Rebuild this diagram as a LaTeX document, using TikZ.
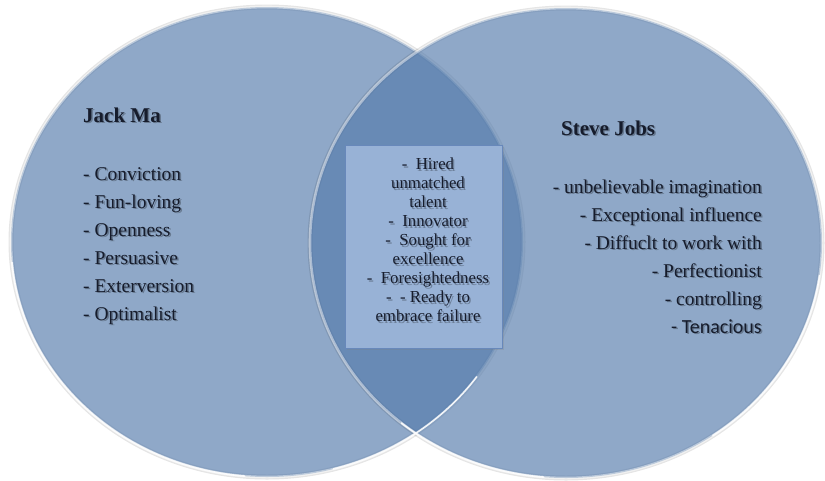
\documentclass[tikz,border=0pt]{standalone}
\usepackage{fontspec}
\setmainfont{Liberation Serif}
\newfontfamily\sansitem{Carlito}
\usetikzlibrary{shapes.geometric, positioning, shadows}

\definecolor{vennblue}{RGB}{83,122,171}
\definecolor{boxblue}{RGB}{152,178,214}
\definecolor{boxline}{RGB}{104,136,186}
\definecolor{inktext}{RGB}{22,28,44}

\begin{document}
\begin{tikzpicture}[x=1pt, y=-1pt,
    venn/.style={ellipse, inner sep=0pt,
                 minimum width=512pt, minimum height=470pt,
                 fill=vennblue, fill opacity=0.65,
                 draw=white, draw opacity=0.45, line width=2.6pt,
                 preaction={draw=black, draw opacity=0.10, line width=5pt,
                            fill opacity=0, shift={(1.5,2.5)}}},
    glint/.style={draw=white, draw opacity=0.9, line width=1.6pt, line cap=round},
    sharedbox/.style={rectangle, inner sep=0pt,
                      minimum width=157pt, minimum height=203pt,
                      fill=boxblue, draw=boxline, line width=0.8pt,
                      drop shadow={opacity=0.25, shadow xshift=1.5pt, shadow yshift=-1.5pt}},
    heading/.style={font=\fontsize{21}{26}\selectfont\bfseries, inner sep=0pt},
    item/.style={font=\fontsize{19.5}{28}\selectfont, inner sep=0pt},
    sharedtext/.style={font=\fontsize{16.8}{19}\selectfont,
                       align=center, inner sep=0pt}
  ]
  \useasboundingbox (0,0) rectangle (825,480);

  % the two sets
  \node[venn] (jack)  at (267,242) {};
  \node[venn] (steve) at (566,243) {};

  % bright rim along the lower edges
  \draw[glint] ([shift={(175:256 and 235)}]jack.center)
      arc[start angle=175, end angle=95, x radius=256, y radius=235];
  \draw[glint] ([shift={(75:256 and 235)}]jack.center)
      arc[start angle=75, end angle=35, x radius=256, y radius=235];
  \draw[glint] ([shift={(130:256 and 235)}]steve.center)
      arc[start angle=130, end angle=95, x radius=256, y radius=235];
  \draw[glint] ([shift={(8:256 and 235)}]steve.center)
      arc[start angle=8, end angle=55, x radius=256, y radius=235];

  % common ground
  \node[sharedbox] (shared) at (424,247) {};

  % every text twice: soft shadow first, then the ink on top
  \foreach \pass/\off/\ink/\op in {sh/1.5/black/0.28, tx/0/inktext/1} {
    \begin{scope}[shift={(\off,\off)},
                  every node/.append style={text=\ink, text opacity=\op}]
      \node[sharedtext] (sharedlist\pass) at (428,240)
           {-\enspace Hired\\ unmatched\\ talent\\
            -\enspace Innovator\\ -\enspace Sought for\\ excellence\\
            -\enspace Foresightedness\\ -\enspace - Ready to\\ embrace failure};

      % left set
      \node[heading, anchor=base west] (matitle\pass) at (83,122) {Jack Ma};
      \foreach \trait [count=\i] in {Conviction, Fun-loving, Openness,
                                     Persuasive, Exterversion, Optimalist}
        \node[item, anchor=base west] (ma\i\pass) at (83,152+28*\i) {- \trait};

      % right set
      \node[heading, anchor=base west] (jobstitle\pass) at (561,135) {Steve Jobs};
      \foreach \trait [count=\i] in {unbelievable imagination, Exceptional influence,
                                     Diffuclt to work with, Perfectionist, controlling}
        \node[item, anchor=base east] (jobs\i\pass) at (762,165+28*\i) {- \trait};
      \node[item, font=\fontsize{20}{28}\sansitem, anchor=base east]
           (jobs6\pass) at (762,333) {- Tenacious};
    \end{scope}
  }
\end{tikzpicture}
\end{document}
